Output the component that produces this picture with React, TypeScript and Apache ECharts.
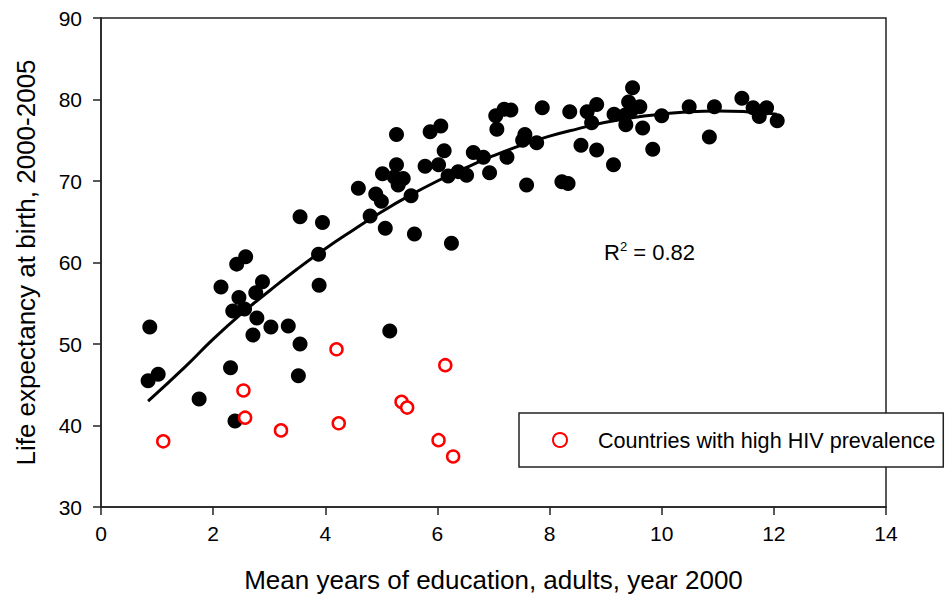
import React, { useEffect, useRef } from "react";
import * as echarts from "echarts";

const xTicks = [0, 2, 4, 6, 8, 10, 12, 14];
const yTicks = [30, 40, 50, 60, 70, 80, 90];

const countryEdu = [
  0.87, 0.84, 1.02, 1.75, 2.39, 2.31, 2.14, 2.42, 2.58, 2.88, 2.76, 2.46, 2.35, 2.56, 2.78, 2.71,
  3.03, 3.34, 3.55, 3.52, 3.88, 3.89, 3.55, 3.95, 4.59, 5.27, 4.9, 4.8, 5.0, 5.02, 5.27, 5.23,
  5.33, 5.39, 5.3, 5.07, 5.53, 5.59, 5.78, 6.02, 5.87, 6.06, 6.12, 6.19, 6.37, 6.52, 6.25, 6.64,
  6.82, 6.93, 7.24, 7.06, 7.04, 7.19, 7.31, 7.56, 7.52, 7.77, 7.59, 7.87, 5.15, 8.22, 8.33, 8.36,
  8.56, 8.67, 8.84, 8.75, 8.84, 9.14, 9.15, 9.36, 9.35, 9.41, 9.45, 9.48, 9.61, 9.66, 9.84, 10.0,
  10.49, 10.94, 10.85, 11.43, 11.63, 11.87, 11.74, 12.06,
];
const countryLife = [
  52.1, 45.5, 46.3, 43.25, 40.55, 47.1, 57.0, 59.8, 60.7, 57.65, 56.3, 55.7, 54.05, 54.3, 53.2, 51.1,
  52.1, 52.2, 50.0, 46.1, 61.0, 57.2, 65.6, 64.9, 69.1, 75.7, 68.4, 65.7, 67.5, 70.9, 72.0, 70.5,
  70.1, 70.3, 69.5, 64.2, 68.2, 63.5, 71.8, 72.0, 76.05, 76.75, 73.7, 70.6, 71.15, 70.7, 62.35, 73.5,
  72.9, 71.0, 72.9, 76.35, 78.0, 78.8, 78.7, 75.7, 75.0, 74.7, 69.5, 79.0, 51.6, 69.9, 69.7, 78.5,
  74.4, 78.5, 79.4, 77.15, 73.8, 72.0, 78.2, 76.9, 78.1, 79.7, 78.6, 81.45, 79.1, 76.5, 73.9, 78.0,
  79.1, 79.1, 75.4, 80.15, 79.0, 79.0, 77.9, 77.4,
];

const hivEdu = [1.11, 2.54, 2.57, 3.21, 4.2, 4.24, 5.36, 5.46, 6.14, 6.02, 6.28];
const hivLife = [38.06, 44.3, 40.96, 39.4, 49.35, 40.27, 42.9, 42.2, 47.4, 38.2, 36.2];

const fitEdu = [0.84, 1.5, 2, 2.5, 3, 3.5, 4, 4.5, 5, 5.5, 6, 6.5, 7, 7.5, 8, 8.5, 9, 9.5, 10, 10.5, 11, 11.5, 12.05];
const fitLife = [43.0, 47.2, 50.6, 53.7, 56.5, 59.2, 61.7, 64.0, 66.2, 68.2, 70.0, 71.6, 73.1, 74.4, 75.5, 76.4, 77.2, 77.8, 78.2, 78.5, 78.6, 78.5, 78.2];

const hivName = "Countries with high HIV prevalence";
const FONT = "'Liberation Sans', Arial, sans-serif";

export default function App() {
  const ref = useRef<HTMLDivElement>(null);
  useEffect(() => {
    if (!ref.current) return;
    const chart = echarts.init(ref.current, undefined, { renderer: "svg" });
    const pairs = (xs: number[], ys: number[]) => xs.map((x, i) => [x, ys[i]]);
    chart.setOption({
      animation: false,
      backgroundColor: "#fff",
      textStyle: { fontFamily: FONT },
      grid: {
        left: 101,
        right: 62,
        top: 18,
        bottom: 91,
        show: true,
        borderColor: "#222",
        borderWidth: 1.5,
        backgroundColor: "transparent",
      },
      xAxis: {
        type: "value",
        min: xTicks[0],
        max: xTicks[xTicks.length - 1],
        interval: 2,
        name: "Mean years of education, adults, year 2000",
        nameLocation: "middle",
        nameGap: 60,
        nameTextStyle: { fontSize: 26, color: "#000", fontFamily: FONT },
        axisLine: { show: true, lineStyle: { color: "#222", width: 1.5 } },
        axisTick: { show: true, length: 8, lineStyle: { color: "#222", width: 1.5 } },
        axisLabel: { fontSize: 21, color: "#000", margin: 16, fontFamily: FONT },
        splitLine: { show: false },
      },
      yAxis: {
        type: "value",
        min: yTicks[0],
        max: yTicks[yTicks.length - 1],
        interval: 10,
        name: "Life expectancy at birth, 2000-2005",
        nameLocation: "middle",
        nameGap: 62,
        nameTextStyle: { fontSize: 26, color: "#000", fontFamily: FONT },
        axisLine: { show: true, lineStyle: { color: "#222", width: 1.5 } },
        axisTick: { show: true, length: 8, lineStyle: { color: "#222", width: 1.5 } },
        axisLabel: { fontSize: 21, color: "#000", margin: 19, fontFamily: FONT },
        splitLine: { show: false },
      },
      legend: {
        data: [hivName],
        left: 519,
        top: 413,
        backgroundColor: "#fff",
        borderColor: "#222",
        borderWidth: 1.5,
        padding: [16, 8, 16, 33],
        itemWidth: 14,
        itemHeight: 14,
        textStyle: { fontSize: 21.6, color: "#000", fontFamily: FONT, padding: [0, 0, 0, 26] },
        selectedMode: false,
      },
      graphic: [
        {
          type: "text",
          left: 604,
          top: 240,
          style: {
            text: "{r|R}{s|2}{r| = 0.82}",
            rich: {
              r: { fontSize: 22, fontFamily: FONT, fill: "#000" },
              s: { fontSize: 13, fontFamily: FONT, fill: "#000", verticalAlign: "top", padding: [0, 0, 12, 0] },
            },
          },
        },
      ],
      series: [
        {
          type: "line",
          name: "fit",
          data: pairs(fitEdu, fitLife),
          smooth: true,
          showSymbol: false,
          lineStyle: { color: "#000", width: 3 },
          z: 3,
        },
        {
          type: "scatter",
          name: "Countries",
          data: pairs(countryEdu, countryLife),
          symbol: "circle",
          symbolSize: 15,
          itemStyle: { color: "#000", opacity: 1 },
          z: 2,
        },
        {
          type: "scatter",
          name: hivName,
          data: pairs(hivEdu, hivLife),
          symbol: "circle",
          symbolSize: 12,
          itemStyle: { color: "#fff", borderColor: "#ff0000", borderWidth: 2.5, opacity: 1 },
          z: 4,
        },
      ],
    });
    return () => chart.dispose();
  }, []);
  return <div ref={ref} style={{ position: "fixed", left: 0, top: 0, width: 948, height: 598 }} />;
}
